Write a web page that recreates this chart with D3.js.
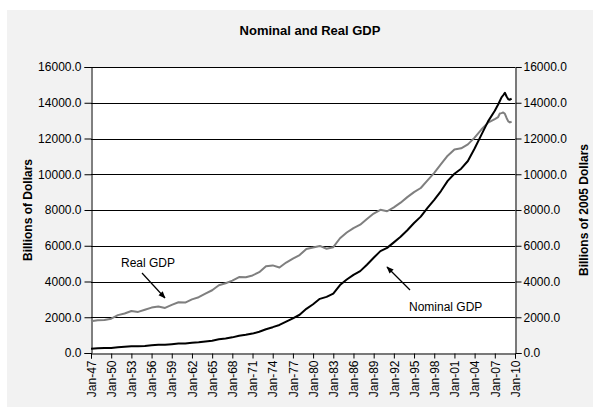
<!DOCTYPE html>
<html>
<head>
<meta charset="utf-8">
<script src="https://cdn.jsdelivr.net/npm/d3@7"></script>
<style>
  body { margin: 0; background: #fff; }
  text { font-family: Arial, "Liberation Sans", sans-serif; }
</style>
</head>
<body>
<div id="container"></div>
<script>
// quarter dates (yearly Q1 then quarterly for the last stretch)
const dates = ["1947-01","1948-01","1949-01","1950-01","1951-01","1952-01","1953-01","1954-01","1955-01","1956-01",
  "1957-01","1958-01","1959-01","1960-01","1961-01","1962-01","1963-01","1964-01","1965-01","1966-01",
  "1967-01","1968-01","1969-01","1970-01","1971-01","1972-01","1973-01","1974-01","1975-01","1976-01",
  "1977-01","1978-01","1979-01","1980-01","1981-01","1982-01","1983-01","1984-01","1985-01","1986-01",
  "1987-01","1988-01","1989-01","1990-01","1991-01","1992-01","1993-01","1994-01","1995-01","1996-01",
  "1997-01","1998-01","1999-01","2000-01","2001-01","2002-01","2003-01","2004-01","2005-01","2006-01",
  "2007-01","2007-07","2007-10","2008-01","2008-04","2008-07","2008-10","2009-01","2009-04","2009-07"];

const nominalGDP = [243,260,275,280,320,350,375,375,395,430,
  455,455,490,525,530,570,600,645,690,765,
  815,875,960,1015,1085,1190,1330,1445,1570,1760,
  1940,2140,2470,2730,3030,3140,3320,3800,4110,4370,
  4580,4940,5330,5700,5880,6190,6500,6870,7270,7630,
  8120,8570,9060,9630,10030,10310,10740,11440,12200,12960,
  13550,13900,14100,14300,14420,14560,14350,14200,14170,14230];

const realGDP = [1770,1830,1850,1920,2120,2210,2350,2300,2420,2540,
  2600,2520,2690,2840,2820,3000,3120,3320,3510,3790,
  3900,4050,4250,4240,4340,4520,4850,4900,4780,5060,
  5280,5480,5820,5900,5990,5830,5920,6420,6740,6990,
  7180,7500,7800,8010,7930,8150,8410,8720,9000,9230,
  9660,10080,10560,11040,11390,11450,11670,12050,12500,12890,
  13090,13200,13400,13420,13460,13380,13150,12960,12900,12950];

const yTicks = [0,2000,4000,6000,8000,10000,12000,14000,16000];
const xTickYears = d3.range(1947, 2011, 3);

const width = 593, height = 407;
const margin = {left: 91, right: 78, top: 67, bottom: 54};

const parse = d3.timeParse("%Y-%m");
const data = dates.map((d, i) => ({date: parse(d), nominal: nominalGDP[i], real: realGDP[i]}));

const x = d3.scaleTime()
  .domain([new Date(1947, 0, 1), new Date(2010, 0, 1)])
  .range([margin.left, width - margin.right]);
const yL = d3.scaleLinear().domain([0, 16000]).range([height - margin.bottom, margin.top]);
const yR = d3.scaleLinear().domain([0, 16000]).range([height - margin.bottom, margin.top]);

const svg = d3.select("#container").append("svg")
  .attr("width", width)
  .attr("height", height);

// chart area and plot area
svg.append("rect").attr("x", 7).attr("y", 10).attr("width", width - 7).attr("height", height - 10).attr("fill", "#f2f2f2");
svg.append("rect")
  .attr("x", margin.left).attr("y", margin.top)
  .attr("width", width - margin.right - margin.left)
  .attr("height", height - margin.bottom - margin.top)
  .attr("fill", "#fff");

// gridlines
svg.append("g")
  .selectAll("line")
  .data(yTicks.filter(d => d > 0))
  .join("line")
  .attr("x1", margin.left).attr("x2", width - margin.right)
  .attr("y1", d => Math.round(yL(d)) + 0.5).attr("y2", d => Math.round(yL(d)) + 0.5)
  .attr("stroke", "#000")
  .attr("stroke-width", 1);

const fmt = d => d.toFixed(1);

svg.append("g")
  .attr("transform", `translate(${margin.left + 0.5},0)`)
  .call(d3.axisLeft(yL).tickValues(yTicks).tickFormat(fmt).tickSizeOuter(0).tickSize(7))
  .call(g => g.selectAll("text").attr("font-size", 12).attr("fill", "#000").attr("x", -10))
  .call(g => g.selectAll("line,path").attr("stroke", "#000"));

svg.append("g")
  .attr("transform", `translate(${width - margin.right + 0.5},0)`)
  .call(d3.axisRight(yR).tickValues(yTicks).tickFormat(fmt).tickSizeOuter(0).tickSize(6))
  .call(g => g.selectAll("text").attr("font-size", 12).attr("fill", "#000").attr("x", 8))
  .call(g => g.selectAll("line,path").attr("stroke", "#000"));

svg.append("g")
  .attr("transform", `translate(0,${height - margin.bottom + 0.5})`)
  .call(d3.axisBottom(x)
    .tickValues(xTickYears.map(yr => new Date(yr, 0, 1)))
    .tickFormat(d3.timeFormat("%b-%y"))
    .tickSizeOuter(0).tickSize(5))
  .call(g => g.selectAll("line,path").attr("stroke", "#000"))
  .call(g => g.selectAll("text")
    .attr("font-size", 12).attr("fill", "#000")
    .attr("text-anchor", "end")
    .attr("dy", "0.35em")
    .attr("x", -7).attr("y", 0)
    .attr("transform", "rotate(-90)"));

// lines
const lineReal = d3.line().x(d => x(d.date)).y(d => yR(d.real));
const lineNominal = d3.line().x(d => x(d.date)).y(d => yL(d.nominal));

svg.append("path").datum(data)
  .attr("fill", "none").attr("stroke", "#7f7f7f").attr("stroke-width", 2)
  .attr("stroke-linejoin", "round")
  .attr("d", lineReal);
svg.append("path").datum(data)
  .attr("fill", "none").attr("stroke", "#000").attr("stroke-width", 2)
  .attr("stroke-linejoin", "round")
  .attr("d", lineNominal);

// titles
svg.append("text").attr("x", 310).attr("y", 35)
  .attr("text-anchor", "middle").attr("font-size", 13).attr("font-weight", "bold")
  .text("Nominal and Real GDP");

svg.append("text")
  .attr("transform", `translate(32,${(margin.top + height - margin.bottom) / 2}) rotate(-90)`)
  .attr("text-anchor", "middle").attr("font-size", 12).attr("font-weight", "bold")
  .text("Billions of Dollars");

svg.append("text")
  .attr("transform", `translate(588,${(margin.top + height - margin.bottom) / 2}) rotate(-90)`)
  .attr("text-anchor", "middle").attr("font-size", 12).attr("font-weight", "bold")
  .text("Billions of 2005 Dollars");

// annotations
svg.append("defs").append("marker")
  .attr("id", "arrow").attr("viewBox", "0 0 10 10")
  .attr("refX", 9).attr("refY", 5)
  .attr("markerWidth", 6).attr("markerHeight", 6)
  .attr("orient", "auto")
  .append("path").attr("d", "M0,1 L10,5 L0,9 Z").attr("fill", "#000");

svg.append("text").attr("x", 121).attr("y", 267).attr("font-size", 12).text("Real GDP");
svg.append("line").attr("x1", 142).attr("y1", 273).attr("x2", 165).attr("y2", 298)
  .attr("stroke", "#000").attr("stroke-width", 1.2).attr("marker-end", "url(#arrow)");

svg.append("text").attr("x", 409).attr("y", 311).attr("font-size", 12).text("Nominal GDP");
svg.append("line").attr("x1", 410).attr("y1", 290).attr("x2", 387).attr("y2", 267)
  .attr("stroke", "#000").attr("stroke-width", 1.2).attr("marker-end", "url(#arrow)");
</script>
</body>
</html>
